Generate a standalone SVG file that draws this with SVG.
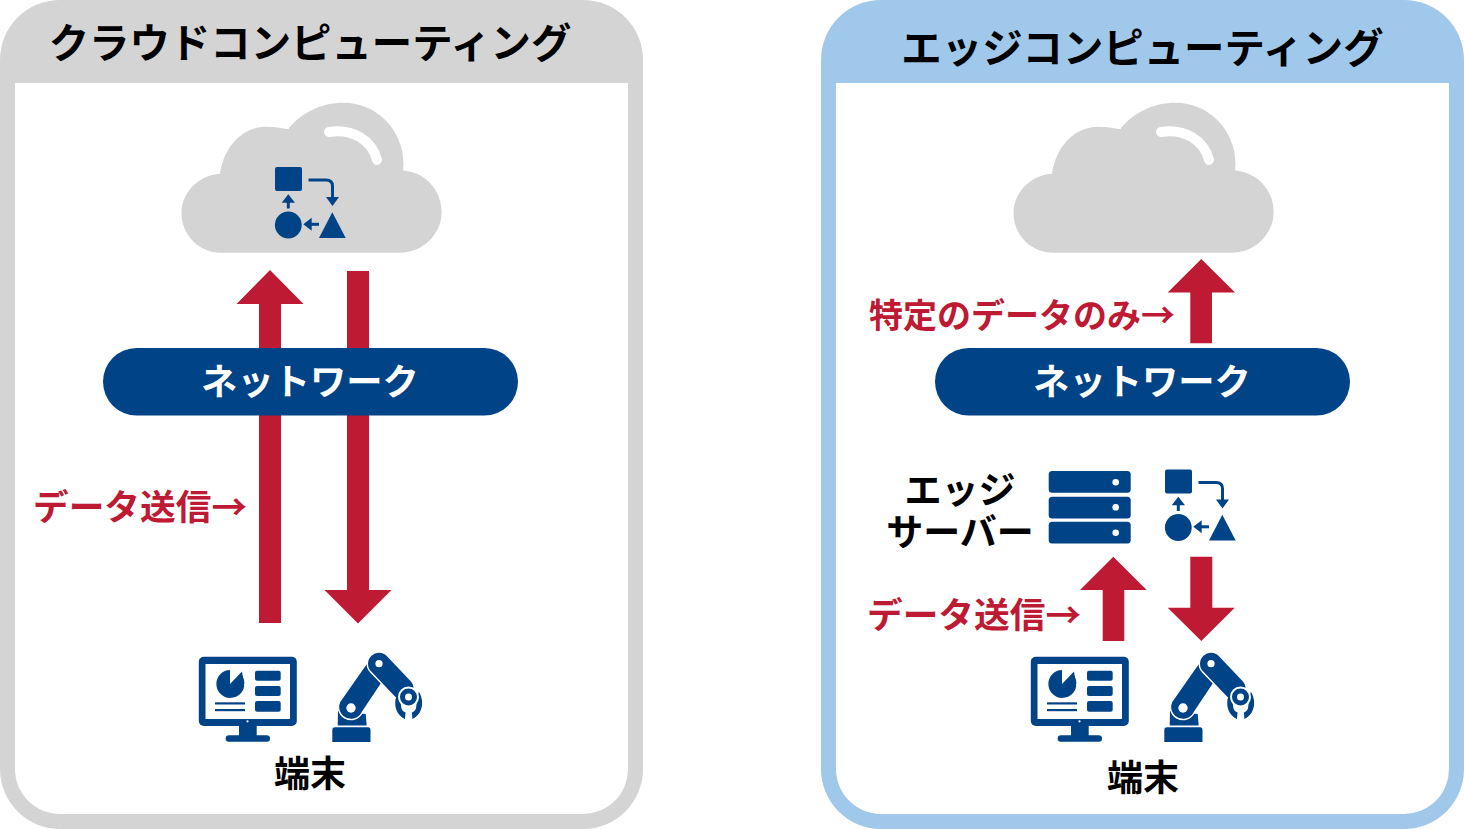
<svg xmlns="http://www.w3.org/2000/svg" width="1464" height="829" viewBox="0 0 1464 829">
<style>
text{font-family:"Noto Sans CJK JP","Liberation Sans",sans-serif;font-weight:700}
.t{font-size:40.4px;fill:#000;text-anchor:middle}
.k{font-size:37px;fill:#000;text-anchor:middle}
.s{font-size:36px;fill:#000;text-anchor:middle}
.r{font-size:35.700px;fill:#be1a33}
.o{font-size:34px;fill:#be1a33}
.n{font-size:36.300px;fill:#fff;text-anchor:middle}
.b{fill:#004386}
.red{fill:#be1a33}
.cloud{fill:#d4d4d4}
</style>
<defs>
<g id="cloud">
<path class="cloud" d="M221 252.700C199 252.700 181.500 235 181.500 213C181.500 192 199 175 220 173.700C224 146 243 126.700 266 126.700C274 126.700 282 128 288.300 129.300C300 113 322 102.700 343 102.700C377 102.700 403.500 130 403.500 164L403 170.500C425 172 441.600 190 441.600 212C441.600 234 423 252.700 400 252.700Z"/>
<path d="M329 132C352 128 372 140 377 160" fill="none" stroke="#fff" stroke-width="10" stroke-linecap="round"/>
</g>
<g id="flow">
<rect class="b" x="275" y="167" width="27" height="24" rx="2"/>
<path d="M308.500 180H326Q332.500 180 332.500 186V198" fill="none" stroke="#004386" stroke-width="3"/>
<path class="b" d="M326 197H339L332.500 206Z"/>
<path class="b" d="M281.700 202.700H295L288.300 194.300Z"/>
<rect class="b" x="286.800" y="202" width="3" height="6.500"/>
<circle class="b" cx="288.300" cy="225" r="13.400"/>
<path class="b" d="M303.300 224.300L311.700 217.700V230.700Z"/>
<rect class="b" x="311" y="222.800" width="8" height="3"/>
<path class="b" d="M332.300 212.300L345.700 238H319Z"/>
</g>
<g id="mon">
<rect class="b" x="198.800" y="656.700" width="98" height="69.300" rx="5"/>
<rect x="205.500" y="664" width="84.500" height="55" fill="#fff"/>
<rect class="b" x="239" y="725" width="17.700" height="12"/>
<rect class="b" x="225.700" y="735.300" width="44.300" height="6.400" rx="3.200"/>
<circle cx="247.500" cy="721.300" r="1.100" fill="#fff"/>
<path class="b" d="M230 684V670A14 14 0 1 0 244.200 686L242 671.500Z"/>
<path class="b" d="M232 684L240.500 673.500A14 14 0 0 1 244.300 684Z"/>
<rect class="b" x="215" y="702.300" width="30" height="2.200"/>
<rect class="b" x="215" y="709" width="30" height="2.200"/>
<rect class="b" x="255" y="670.700" width="25.700" height="10" rx="2"/>
<rect class="b" x="255" y="686" width="25.700" height="10" rx="2"/>
<rect class="b" x="255" y="701" width="25.700" height="10.700" rx="2"/>
</g>
<g id="rob">
<path class="b" d="M332.300 730Q332.300 727.300 335 727.300H368Q370.500 727.300 370.500 730V742H332.300Z"/>
<path class="b" d="M338 711L337.700 725.500H366.700L365.700 714Z"/>
<path class="b" d="M340 701L368 661L384 680L362 713A11.700 11.700 0 1 1 340 701Z" stroke="#fff" stroke-width="1.500"/>
<path d="M379 663.700L402.500 688.500" fill="none" stroke="#fff" stroke-width="25" stroke-linecap="round"/>
<path d="M379 663.700L402.500 688.500" fill="none" stroke="#004386" stroke-width="22" stroke-linecap="round"/>
<circle cx="351" cy="708" r="4.700" fill="#fff"/>
<circle cx="379" cy="663.700" r="3.600" fill="#fff"/>
<path class="b" d="M398.500 692C393 700 394 714 405 719L405.500 712.500Q401 711 401 705L400 695Z"/>
<path class="b" d="M418.900 692C424.400 700 423.400 714 412.400 719L411.900 712.500Q416.400 711 416.400 705L417.400 695Z"/>
<circle class="b" cx="408.500" cy="697" r="9.500" stroke="#fff" stroke-width="2"/>
<circle cx="408.500" cy="697" r="3.500" fill="#fff"/>
</g>
</defs>

<g id="cloud-panel">
<rect x="0" y="0" width="643" height="829" rx="60" fill="#d4d4d4"/>
<path d="M15 83H628V769A45 45 0 0 1 583 814H60A45 45 0 0 1 15 769Z" fill="#fff"/>
<text class="t" x="310" y="58">クラウドコンピューティング</text>
</g>
<g id="edge-panel">
<rect x="821" y="0" width="643" height="829" rx="60" fill="#9fc8ea"/>
<path d="M836 83H1449V769A45 45 0 0 1 1404 814H881A45 45 0 0 1 836 769Z" fill="#fff"/>
<text class="t" x="1142.500" y="63">エッジコンピューティング</text>
</g>

<g id="connectors">
<path class="red" d="M270 270L303.500 304H281V623H259V304H236.500Z"/>
<path class="red" d="M347 271H369V590H391.500L358 623.500L324.500 590H347Z"/>
<path class="red" d="M1201.300 259L1235 292.500H1212V343.300H1190.300V292.500H1167.700Z"/>
<path class="red" d="M1113.300 556.700L1146.700 590H1124.300V641H1102.700V590H1080Z"/>
<path class="red" d="M1190.300 556.700H1212.300V607.700H1234.700L1201.300 641L1167.700 607.700H1190.300Z"/>
</g>

<g id="left-cloud"><use href="#cloud"/><use href="#flow"/></g>
<g id="right-cloud"><use href="#cloud" x="832"/></g>
<g id="left-network"><rect class="b" x="103" y="348" width="415" height="67.500" rx="33.700"/><text class="n" x="310" y="395">ネットワーク</text></g>
<g id="right-network"><rect class="b" x="935" y="348" width="415" height="67.500" rx="33.700"/><text class="n" x="1142" y="395">ネットワーク</text></g>
<g id="left-send"><text class="r" x="33" y="520">データ送信→</text></g>
<g id="right-send"><text class="r" x="867" y="628">データ送信→</text></g>
<g id="only"><text class="o" x="869" y="328">特定のデータのみ→</text></g>
<g id="left-device"><use href="#mon"/><use href="#rob"/><text class="s" x="310" y="787">端末</text></g>
<g id="right-device"><use href="#mon" x="832"/><use href="#rob" x="832"/><text class="s" x="1143" y="791">端末</text></g>
<g id="edge-server">
<rect class="b" x="1048.700" y="471" width="82" height="21.700" rx="3.500"/>
<rect class="b" x="1048.700" y="496.700" width="82" height="21.700" rx="3.500"/>
<rect class="b" x="1048.700" y="521.700" width="82" height="21.700" rx="3.500"/>
<circle cx="1115.700" cy="482.300" r="3.300" fill="#fff"/>
<circle cx="1115.700" cy="507.300" r="3.300" fill="#fff"/>
<circle cx="1115.700" cy="532.700" r="3.300" fill="#fff"/>
<text class="k" x="960" y="504">エッジ</text>
<text class="k" x="960" y="546">サーバー</text>
<use href="#flow" x="890" y="302.500"/>
</g>
</svg>
